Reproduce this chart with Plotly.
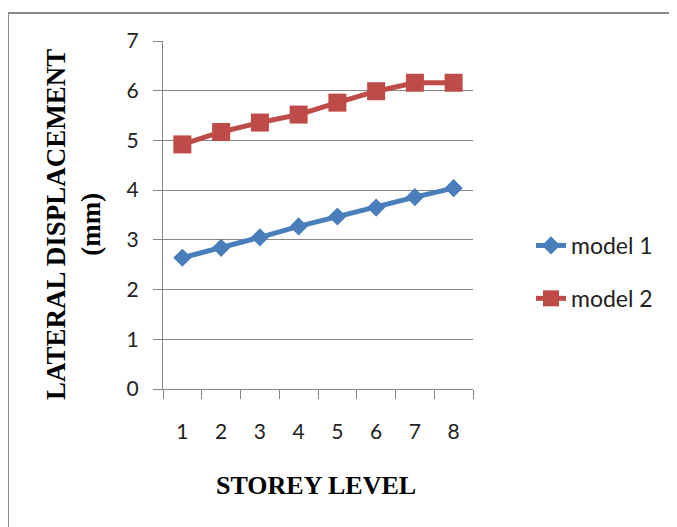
import plotly.graph_objects as go

storey = ["1", "2", "3", "4", "5", "6", "7", "8"]
model1 = [2.64, 2.84, 3.05, 3.27, 3.47, 3.65, 3.86, 4.04]
model2 = [4.92, 5.17, 5.36, 5.52, 5.76, 5.99, 6.16, 6.16]

OFF = 8  # page body margin offset
W, H = 677 - OFF, 527 - OFF
# plot area in page pixels
PL, PR, PT, PB = 163, 473, 41, 389
L, R, T, B = PL - OFF, PR - OFF, PT - OFF, PB - OFF

fig = go.Figure()
fig.add_trace(go.Scatter(x=storey, y=model1, name="model 1", mode="lines+markers",
                         line=dict(color="#4A7EBB", width=5),
                         marker=dict(symbol="diamond", size=14, color="#4A7EBB"),
                         legendgroup="a"))
fig.add_trace(go.Scatter(x=storey, y=model2, name="model 2", mode="lines+markers",
                         line=dict(color="#BE4B48", width=5),
                         marker=dict(symbol="square", size=18, color="#BE4B48"),
                         legendgroup="b"))

def px_x(x_page):
    return (x_page - OFF - L) / (R - L)

def px_y(y_page):
    return (B - (y_page - OFF)) / (B - T)

fig.update_layout(
    width=W, height=H,
    margin=dict(l=L, r=W - R, t=T, b=H - B),
    paper_bgcolor="white", plot_bgcolor="white",
    font=dict(family="Lato, Liberation Sans, sans-serif", size=21, color="#222"),
    showlegend=True,
    legend=dict(x=px_x(531), y=px_y(224), xanchor="left", yanchor="top",
                tracegroupgap=20, traceorder="grouped",
                font=dict(size=23, family="Lato, sans-serif", color="#222"),
                bgcolor="rgba(0,0,0,0)"),
    xaxis=dict(type="category", tickson="boundaries", showgrid=False,
               ticks="outside", ticklen=9, tickcolor="#868686",
               showline=True, linecolor="#868686", linewidth=1,
               ticklabelstandoff=24, tickfont=dict(size=21),
               range=[-0.5, 7.5], zeroline=False),
    yaxis=dict(range=[0, 7], dtick=1, showgrid=True, gridcolor="#868686", gridwidth=1,
               ticks="outside", ticklen=9, tickcolor="#868686",
               showline=True, linecolor="#868686", linewidth=1,
               ticklabelstandoff=10, tickfont=dict(size=21), zeroline=False),
    shapes=[dict(type="rect", xref="paper", yref="paper",
                 x0=px_x(8), x1=px_x(760), y0=px_y(600), y1=px_y(13),
                 line=dict(color="#8a8a8a", width=2), fillcolor="rgba(0,0,0,0)",
                 layer="below")],
    annotations=[
        dict(text="<b>LATERAL DISPLACEMENT<br>(mm)</b>", xref="paper", yref="paper",
             x=px_x(73), y=px_y(225), textangle=-90, showarrow=False,
             xanchor="center", yanchor="middle",
             font=dict(family="Liberation Serif, Times New Roman, serif", size=27, color="#000")),
        dict(text="<b>STOREY LEVEL</b>", xref="paper", yref="paper",
             x=px_x(316), y=px_y(485), showarrow=False,
             xanchor="center", yanchor="middle",
             font=dict(family="Liberation Serif, Times New Roman, serif", size=26, color="#000")),
    ],
)

fig.write_html("out.html")
